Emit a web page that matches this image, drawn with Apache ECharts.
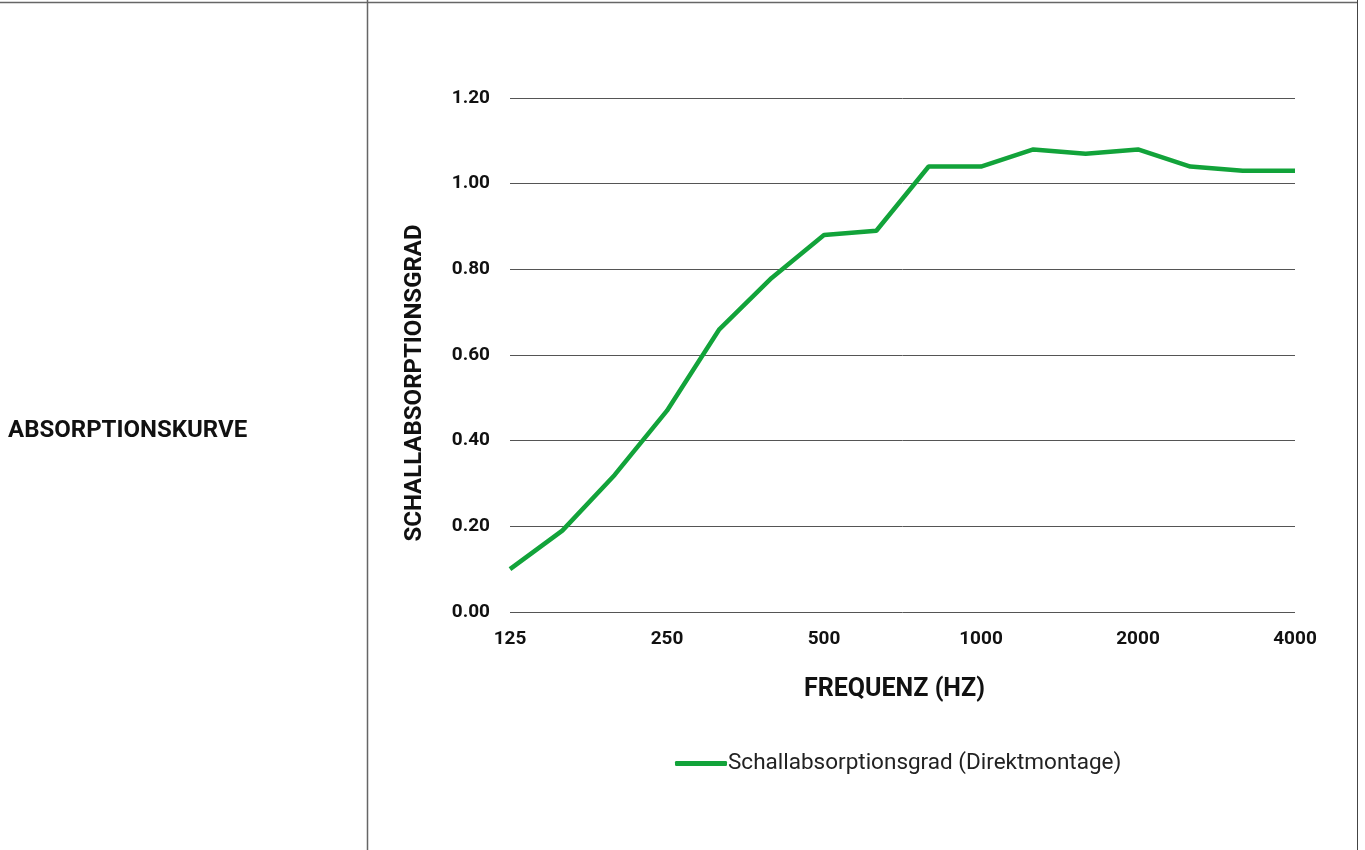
<!DOCTYPE html>
<html><head><meta charset="utf-8">
<script src="https://cdn.jsdelivr.net/npm/echarts@6/dist/echarts.min.js"></script>
<style>html,body{margin:0;padding:0;background:#fff}#c{width:1365px;height:850px}</style>
</head><body><div id="c"></div>
<script>
const categories = ['125','160','200','250','315','400','500','630','800','1000','1250','1600','2000','2500','3150','4000'];
const absorption = [0.10,0.19,0.32,0.47,0.66,0.78,0.88,0.89,1.04,1.04,1.08,1.07,1.08,1.04,1.03,1.03];
const seriesName = 'Schallabsorptionsgrad (Direktmontage)';
const xTitle = 'FREQUENZ (HZ)';
const yTitle = 'SCHALLABSORPTIONSGRAD';
const sideTitle = 'ABSORPTIONSKURVE';

const chart = echarts.init(document.getElementById('c'));
const font = 'Roboto, "Noto Sans", sans-serif';
chart.setOption({
  animation:false,
  textStyle:{fontFamily:font},
  grid:{left:510,right:70,top:98,bottom:238,containLabel:false},
  xAxis:{type:'category',data:categories,boundaryGap:false,
    axisLine:{show:false},axisTick:{show:false},
    axisLabel:{interval:2,color:'#111',fontWeight:'bold',fontSize:19,margin:18,fontFamily:font},
    name:xTitle,nameLocation:'middle',nameGap:65,
    nameTextStyle:{color:'#111',fontWeight:'bold',fontSize:25,fontFamily:font,padding:[0,16,0,0]}},
  yAxis:{type:'value',min:0,max:1.2,interval:0.2,
    axisLine:{show:false},axisTick:{show:false},
    axisLabel:{formatter:v=>v.toFixed(2),color:'#111',fontWeight:'bold',fontSize:19,margin:20,fontFamily:font},
    splitLine:{lineStyle:{color:'#555',width:1}}},
  legend:{top:747,left:670,icon:'roundRect',itemWidth:52,itemHeight:5,itemGap:10,
    textStyle:{color:'#222',fontSize:22.5,fontFamily:font,padding:[0,0,0,-4]},data:[seriesName]},
  series:[{name:seriesName,type:'line',data:absorption,symbol:'none',
    lineStyle:{color:'#12A33A',width:4.5},itemStyle:{color:'#12A33A'}}],
  graphic:[
    {type:'line',shape:{x1:0,y1:2.5,x2:1358,y2:2.5},style:{stroke:'#666',lineWidth:1.5}},
    {type:'line',shape:{x1:367.5,y1:0,x2:367.5,y2:850},style:{stroke:'#666',lineWidth:1.5}},
    {type:'line',shape:{x1:1357.5,y1:0,x2:1357.5,y2:850},style:{stroke:'#444',lineWidth:1}},
    {type:'text',x:8,y:431,style:{text:sideTitle,fill:'#111',font:'bold 24px '+font,verticalAlign:'middle'}},
    {type:'text',x:415,y:383,rotation:Math.PI/2,
      style:{text:yTitle,fill:'#111',font:'bold 24px '+font,align:'center',verticalAlign:'middle'}}
  ]
});
</script></body></html>
